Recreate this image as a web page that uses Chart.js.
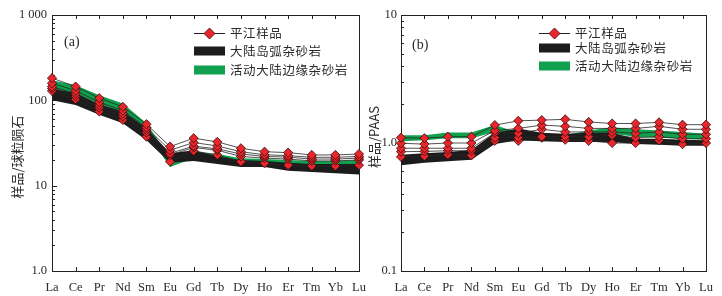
<!DOCTYPE html>
<html>
<head>
<meta charset="utf-8">
<script src="https://cdn.jsdelivr.net/npm/chart.js@4.4.1/dist/chart.umd.min.js"></script>
<style>
  body { margin: 0; background: #fff; }
  #wrap { position: relative; width: 722px; height: 296px; overflow: hidden; }
  canvas { position: absolute; top: 0; }
</style>
</head>
<body>
<div id="wrap">
  <canvas id="chartA" width="378" height="296" style="left:0"></canvas>
  <canvas id="chartB" width="361" height="296" style="left:361px"></canvas>
</div>
<script>
const elements = ['La', 'Ce', 'Pr', 'Nd', 'Sm', 'Eu', 'Gd', 'Tb', 'Dy', 'Ho', 'Er', 'Tm', 'Yb', 'Lu'];
const legendNames = ['平江样品', '大陆岛弧杂砂岩', '活动大陆边缘杂砂岩'];

// (a) chondrite normalised
const arcLowA  = [100, 88, 68, 54, 34, 18.5, 19.5, 18, 16.5, 16.5, 15, 14.5, 14, 13.5];
const arcHighA = [138, 122, 90, 74, 47, 24, 26, 22, 20, 19.5, 18.5, 18, 18, 18];
const acmLowA  = [138, 120, 90, 71, 42, 16.5, 21, 20, 18, 18, 17, 17, 17, 17];
const acmHighA = [172, 150, 115, 92, 54, 21, 25, 23.5, 21, 20.5, 20, 19.5, 19.5, 20];
const samplesA = [
  [182, 145, 106, 84, 52.5, 28.7, 36, 32.6, 27.4, 25, 24.4, 22.9, 22.9, 23.5],
  [159, 130, 95, 76, 48, 26, 32, 29.2, 25, 23, 22.5, 21.5, 21.5, 22],
  [145, 120, 88, 70, 45, 24, 29, 27, 23.5, 22, 21.6, 20.5, 20.5, 21],
  [138, 112, 82, 65, 42, 22.9, 28, 26, 22, 21, 20.5, 19.5, 19.5, 20],
  [129, 103, 74, 59, 37.5, 19.1, 25.5, 22.9, 19.1, 18.3, 17.4, 17, 17, 17.4]
];
const yTicksA = [1, 10, 100, 1000];
const yLabelsA = ['1.0', '10', '100', '1 000'];

// (b) PAAS normalised
const arcLowB  = [0.67, 0.70, 0.72, 0.74, 0.98, 1.05, 1.03, 1.02, 1.02, 1.02, 0.98, 0.97, 0.95, 0.95];
const arcHighB = [0.81, 0.83, 0.85, 0.88, 1.20, 1.30, 1.20, 1.18, 1.20, 1.20, 1.08, 1.08, 1.06, 1.05];
const acmLowB  = [1.03, 1.05, 1.09, 1.09, 1.22, 1.05, 1.03, 1.05, 1.10, 1.18, 1.12, 1.10, 1.08, 1.06];
const acmHighB = [1.15, 1.15, 1.21, 1.21, 1.38, 1.20, 1.12, 1.15, 1.25, 1.33, 1.28, 1.25, 1.22, 1.18];
const samplesB = [
  [1.10, 1.09, 1.12, 1.12, 1.38, 1.49, 1.51, 1.53, 1.46, 1.42, 1.42, 1.45, 1.39, 1.39],
  [0.995, 0.98, 1.00, 1.00, 1.25, 1.30, 1.38, 1.35, 1.30, 1.30, 1.30, 1.35, 1.28, 1.28],
  [0.91, 0.91, 0.91, 0.91, 1.20, 1.19, 1.28, 1.22, 1.22, 1.22, 1.19, 1.22, 1.17, 1.17],
  [0.855, 0.86, 0.87, 0.87, 1.10, 1.10, 1.12, 1.12, 1.12, 1.15, 1.10, 1.12, 1.08, 1.08],
  [0.78, 0.79, 0.81, 0.80, 1.04, 1.04, 1.10, 1.06, 1.04, 1.00, 1.00, 1.05, 0.98, 1.00]
];
const yTicksB = [0.1, 1, 10];
const yLabelsB = ['0.1', '1.0', '10'];

const RED = '#e8262c';
const GREEN = '#11a04e';
const BLACK = '#1c1c1c';
const TEXT = '#2a2a2a';
const CJK = '"Noto Sans CJK SC", "Noto Sans", sans-serif';
const SERIF = '"Liberation Serif", "DejaVu Serif", serif';

function diamond(ctx, x, y, r) {
  ctx.beginPath();
  ctx.moveTo(x, y - r); ctx.lineTo(x + r, y); ctx.lineTo(x, y + r); ctx.lineTo(x - r, y);
  ctx.closePath();
  ctx.fillStyle = RED; ctx.fill();
  ctx.strokeStyle = '#3a0a0a'; ctx.lineWidth = 0.8; ctx.stroke();
}

// frame, inward ticks, legend, panel label and y title
const panelPlugin = {
  id: 'panel',
  beforeDatasetsDraw(chart) {
    const { ctx, chartArea: a, scales: { x, y } } = chart;
    ctx.save();
    ctx.strokeStyle = '#222';
    ctx.lineWidth = 1;
    ctx.strokeRect(a.left + 0.5, a.top + 0.5, a.right - a.left, a.bottom - a.top);
    ctx.beginPath();
    const lo = Math.log10(y.min), hi = Math.log10(y.max);
    for (let d = lo; d < hi; d++) {
      for (let k = 1; k < 10; k++) {
        const py = Math.round(y.getPixelForValue(k * Math.pow(10, d))) + 0.5;
        const len = k === 1 ? 5 : 3;
        ctx.moveTo(a.left, py); ctx.lineTo(a.left + len, py);
      }
    }
    elements.forEach((e, i) => {
      const px = Math.round(x.getPixelForValue(i)) + 0.5;
      ctx.moveTo(px, a.top); ctx.lineTo(px, a.top + 4);
      ctx.moveTo(px, a.bottom); ctx.lineTo(px, a.bottom - 4);
    });
    ctx.stroke();
    ctx.restore();
  },
  afterDraw(chart) {
    const o = chart.options.plugins.panel;
    const { ctx } = chart;
    ctx.save();
    // y title
    ctx.translate(o.titleX, o.titleY);
    ctx.rotate(-Math.PI / 2);
    ctx.fillStyle = TEXT;
    ctx.textAlign = 'center';
    ctx.textBaseline = 'middle';
    ctx.font = '13px ' + CJK;
    ctx.fillText(o.yTitle, 0, 0);
    ctx.restore();

    ctx.save();
    ctx.fillStyle = TEXT;
    ctx.font = '14px ' + SERIF;
    ctx.textBaseline = 'middle';
    ctx.fillText(o.tag, o.tagX, o.tagY);

    const L = o.legend;
    // sample entry
    ctx.strokeStyle = '#222';
    ctx.lineWidth = 1;
    ctx.beginPath();
    ctx.moveTo(L.x, L.rows[0] + 0.5); ctx.lineTo(L.x + L.w, L.rows[0] + 0.5);
    ctx.stroke();
    diamond(ctx, L.x + L.w / 2, L.rows[0] + 0.5, 5.5);
    ctx.fillStyle = BLACK;
    ctx.fillRect(L.x, L.rows[1] - 4.5, L.w, 9);
    ctx.fillStyle = GREEN;
    ctx.fillRect(L.x, L.rows[2] - 4.5, L.w, 9);
    ctx.fillStyle = TEXT;
    ctx.font = '12.5px ' + CJK;
    ctx.letterSpacing = '0.6px';
    legendNames.forEach((n, i) => ctx.fillText(n, L.x + L.w + 5, L.rows[i]));
    ctx.restore();
  }
};

function buildDatasets(arcLow, arcHigh, acmLow, acmHigh, samples) {
  const sets = samples.map(s => ({
    data: s,
    borderColor: '#262626',
    borderWidth: 0.8,
    pointStyle: 'rectRot',
    pointRadius: 4.6,
    pointBackgroundColor: RED,
    pointBorderColor: '#3a0a0a',
    pointBorderWidth: 0.8,
    clip: false,
    fill: false
  }));
  const band = (data, fill, color) => ({
    data: data, borderWidth: 0, pointRadius: 0, borderColor: color,
    backgroundColor: color, fill: fill
  });
  // lower index is drawn on top
  const base = sets.length;
  sets.push(band(arcLow, false, BLACK));
  sets.push(band(arcHigh, base, BLACK));
  sets.push(band(acmLow, false, GREEN));
  sets.push(band(acmHigh, base + 2, GREEN));
  return sets;
}

function makeChart(id, cfg) {
  return new Chart(document.getElementById(id), {
    type: 'line',
    data: {
      labels: elements,
      datasets: buildDatasets(cfg.arcLow, cfg.arcHigh, cfg.acmLow, cfg.acmHigh, cfg.samples)
    },
    options: {
      responsive: false,
      animation: false,
      events: [],
      layout: { padding: { left: 0, right: cfg.padRight, top: 15, bottom: 0 } },
      elements: { line: { tension: 0 } },
      scales: {
        x: {
          type: 'category',
          offset: false,
          grid: { display: false, drawTicks: false },
          border: { display: false },
          ticks: { color: TEXT, padding: 9, autoSkip: false, maxRotation: 0,
                   font: { family: SERIF, size: 12.5 } },
          afterFit: s => { s.height = 25; s.paddingLeft = 0; s.paddingRight = 0; }
        },
        y: {
          type: 'logarithmic',
          min: cfg.yTicks[0],
          max: cfg.yTicks[cfg.yTicks.length - 1],
          grid: { display: false, drawTicks: false },
          border: { display: false },
          afterBuildTicks: s => { s.ticks = cfg.yTicks.map(v => ({ value: v, major: true })); },
          ticks: {
            color: TEXT, padding: cfg.tickPad,
            font: { family: SERIF, size: 12.5 },
            callback: v => cfg.yLabels[cfg.yTicks.indexOf(v)]
          },
          afterFit: s => { s.width = cfg.yWidth; s.paddingTop = 0; s.paddingBottom = 0; }
        }
      },
      plugins: {
        legend: { display: false },
        tooltip: { enabled: false },
        panel: cfg.panel
      }
    },
    plugins: [panelPlugin]
  });
}

makeChart('chartA', {
  arcLow: arcLowA, arcHigh: arcHighA, acmLow: acmLowA, acmHigh: acmHighA, samples: samplesA,
  yTicks: yTicksA, yLabels: yLabelsA, yWidth: 52, padRight: 19, tickPad: 5,
  panel: {
    yTitle: '样品/球粒陨石', titleX: 17, titleY: 157,
    tag: '(a)', tagX: 64, tagY: 42,
    legend: { x: 194, w: 31, rows: [33, 51, 70] }
  }
});

makeChart('chartB', {
  arcLow: arcLowB, arcHigh: arcHighB, acmLow: acmLowB, acmHigh: acmHighB, samples: samplesB,
  yTicks: yTicksB, yLabels: yLabelsB, yWidth: 40, padRight: 16, tickPad: 4,
  panel: {
    yTitle: '样品/PAAS', titleX: 13, titleY: 137,
    tag: '(b)', tagX: 51, tagY: 45,
    legend: { x: 178, w: 31, rows: [33, 48, 66] }
  }
});
</script>
</body>
</html>
